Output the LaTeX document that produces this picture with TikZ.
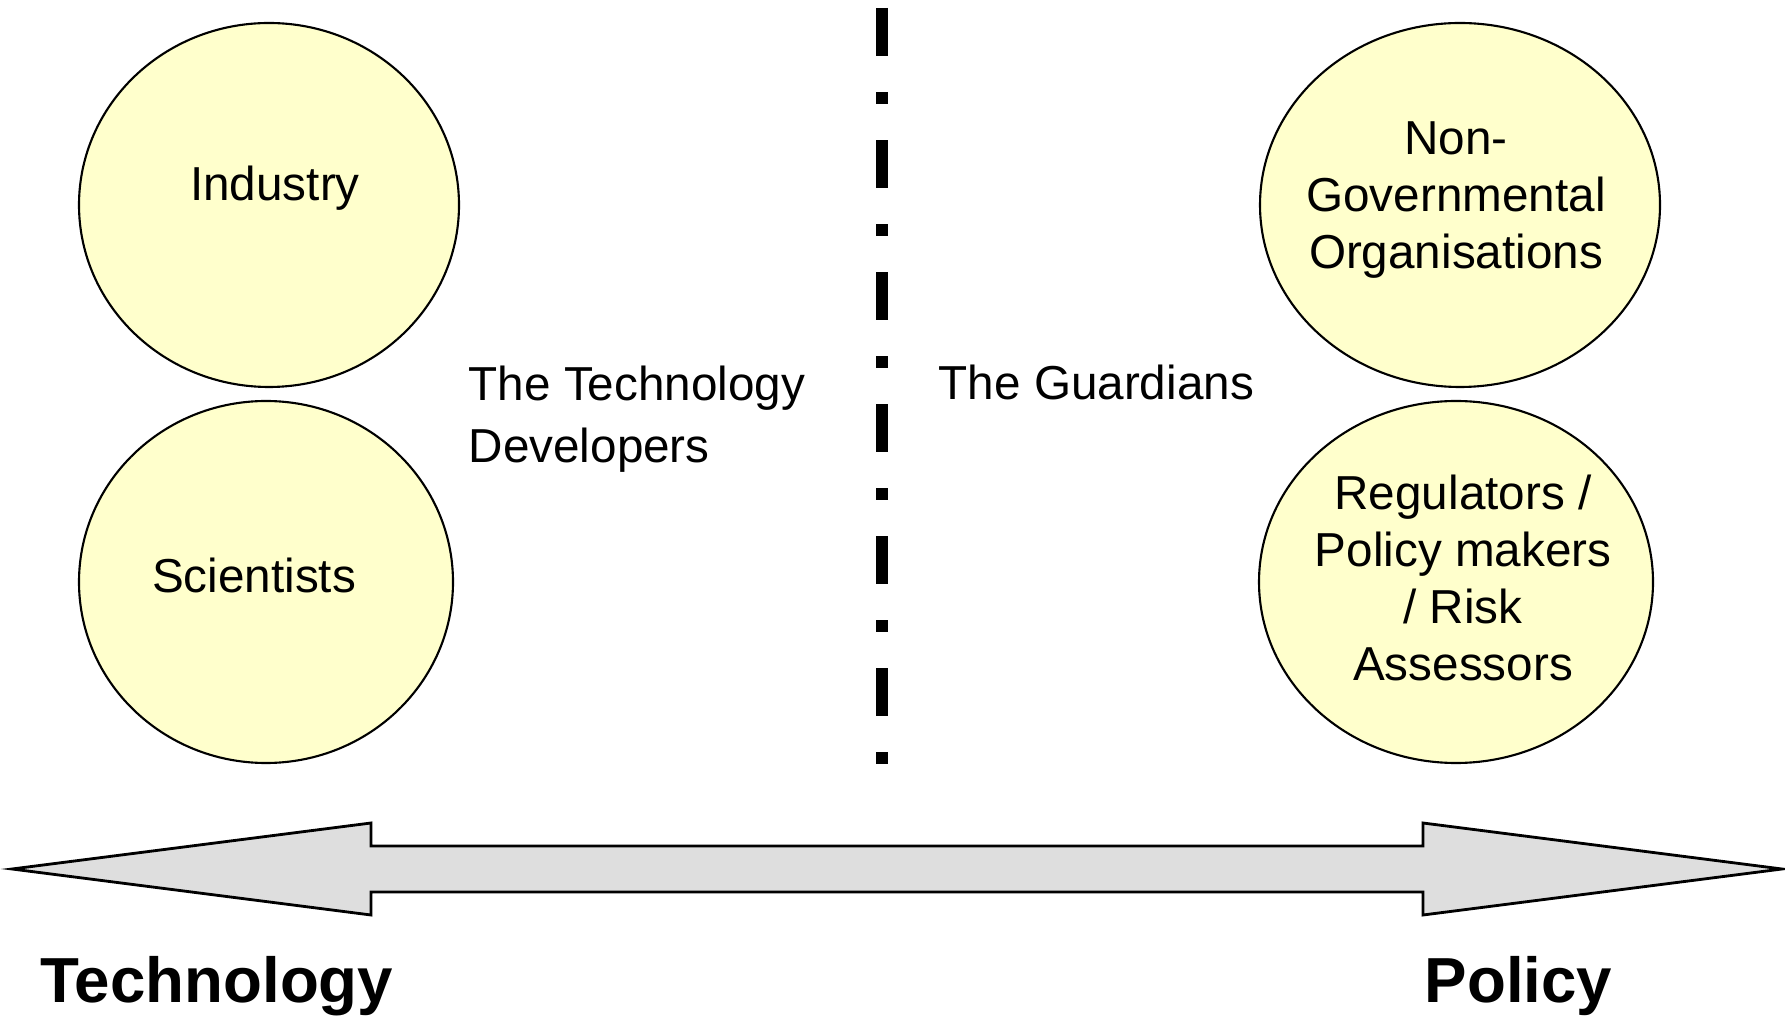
\documentclass[tikz,border=0pt]{standalone}
\usepackage{fontspec}
\setmainfont{Liberation Sans}
\usepackage{tikz}
\usetikzlibrary{calc}
\definecolor{YellowFill}{rgb}{1,1,0.8}
\definecolor{ArrowGray}{rgb}{0.87,0.87,0.87}

\begin{document}
\begin{tikzpicture}[x=0.01cm,y=-0.01cm,
    grouptext/.style={inner sep=0pt,font=\fontsize{13.55pt}{16.2pt}\selectfont},
    axistext/.style={inner sep=0pt,font=\fontsize{18.1pt}{21pt}\selectfont\bfseries}]
    \useasboundingbox (0,0) rectangle (1785,1016);
    %%Groups
    \draw[fill=YellowFill, line width=0.6pt] (269,205) ellipse (190 and 182);
    \draw[fill=YellowFill, line width=0.6pt] (266,582) ellipse (187 and 181);
    \draw[fill=YellowFill, line width=0.6pt] (1460,205) ellipse (200 and 182);
    \draw[fill=YellowFill, line width=0.6pt] (1456,582) ellipse (197 and 181);
    \node[grouptext, anchor=base] (industry) at (275,201) {Industry};
    \node[grouptext, anchor=base] (scientists) at (254,593) {Scientists};
    \node[grouptext, align=center] (ngo) at (1456,200) {Non-\\Governmental\\Organisations};
    \node[grouptext, align=center] (regulators) at (1463,578) {Regulators /\\Policy makers\\/ Risk\\Assessors};
    %%Divider
    \coordinate (divtop) at (882,8);
    \coordinate (divbot) at (882,764);
    \draw[line width=0.12cm, dash pattern=on 0.48cm off 0.36cm on 0.12cm off 0.36cm] (divtop) -- (divbot);
    \node[grouptext, align=left, anchor=west, font=\fontsize{13.55pt}{17.6pt}\selectfont] (developers) at (468,419) {The Technology\\Developers};
    \node[grouptext, anchor=base west] (guardians) at (938,400) {The Guardians};
    %%Axis
    \draw[fill=ArrowGray, line width=0.8pt] (12,869) -- (371,823) -- (371,846) -- (1423,846) -- (1423,823)
        -- (1782,869) -- (1423,915) -- (1423,892) -- (371,892) -- (371,915) -- cycle;
    \node[axistext, anchor=base west] (technology) at (40,1002) {Technology};
    \node[axistext, anchor=base west] (policy) at (1424,1002) {Policy};
\end{tikzpicture}
\end{document}
